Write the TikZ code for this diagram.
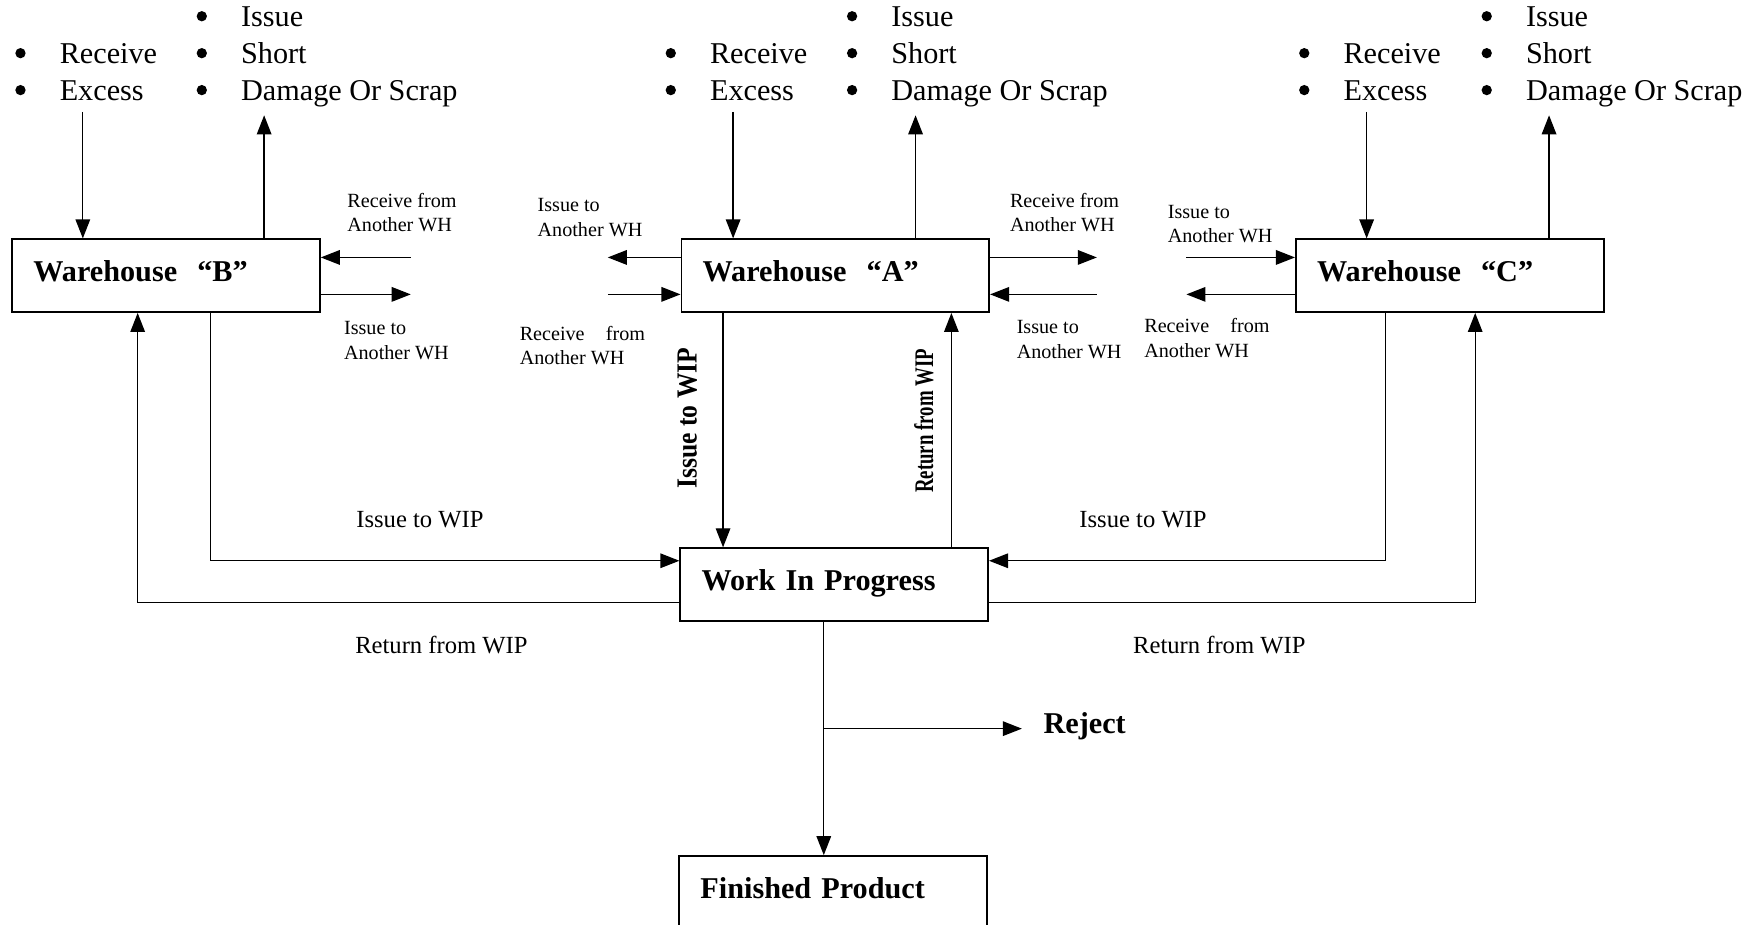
\documentclass[tikz,border=0pt]{standalone}
\usepackage{fontspec}
\setmainfont{Liberation Serif}
\usetikzlibrary{arrows.meta}

% round bullet with its fixed indent before the item text
\newcommand\bdot{\tikz[baseline=0pt]\fill (2.3pt,4.75pt) circle (2.3pt);}
\newcommand\itm{\makebox[19.85pt][l]{\bdot}}
% "Receive from" with its wide gap
\newcommand\spreadrecv{Receive\hspace{9.5pt}from}

\begin{document}
\begin{tikzpicture}[x=0.5pt,y=-0.5pt,
  box/.style={draw, line width=0.8pt, anchor=north west, inner xsep=9.5pt, inner ysep=0pt,
    text width=118.5pt, minimum height=32.5pt, align=left, text height=9pt, text depth=4pt,
    font=\fontsize{13.5}{16}\bfseries\selectfont},
  blist/.style={anchor=base west, inner sep=0pt, align=left, font=\fontsize{13.5}{16.5}\selectfont},
  small/.style={anchor=base west, inner sep=0pt, align=left, font=\fontsize{9}{11}\selectfont},
  flow/.style={anchor=base west, inner sep=0pt, font=\fontsize{11}{13}\selectfont},
  vlab/.style={rotate=90, inner sep=0pt},
  arr/.style={line width=0.6pt, -{Triangle[length=8.5pt,width=6.5pt]}}]
\useasboundingbox (0,0) rectangle (1568,826);
\clip (0,0) rectangle (1568,826);

% boxes
\node[box] (wb)  at (10,213)  {Warehouse\ \ “B”};
\node[box] (wa)  at (608,213) {Warehouse\ \ “A”};
\node[box] (wc)  at (1157,213){Warehouse\ \ “C”};
\node[box] (wip) at (607,489) {Work In Progress};
\node[box] (fin) at (606,764) {Finished Product};

% bullet lists above each warehouse (placed by their last baseline)
\node[blist] (bl1) at (13.3,90)  {\itm Receive\\\itm Excess};
\node[blist] (bl2) at (175.3,90) {\itm Issue\\\itm Short\\\itm Damage Or Scrap};
\node[blist] (al1) at (594.3,90) {\itm Receive\\\itm Excess};
\node[blist] (al2) at (756.3,90) {\itm Issue\\\itm Short\\\itm Damage Or Scrap};
\node[blist] (cl1) at (1160.3,90){\itm Receive\\\itm Excess};
\node[blist] (cl2) at (1323.3,90){\itm Issue\\\itm Short\\\itm Damage Or Scrap};

% free ends of the in/out arrows
\coordinate (bDn) at (74,100);   \coordinate (bUp) at (236,103);
\coordinate (aDn) at (655,100);  \coordinate (aUp) at (818,103);
\coordinate (cDn) at (1221,100); \coordinate (cUp) at (1384,103);

\draw[arr] (bDn) -- (bDn |- wb.north);
\draw[arr] (bUp |- wb.north) -- (bUp);
\draw[arr] (aDn) -- (aDn |- wa.north);
\draw[arr] (aUp |- wa.north) -- (aUp);
\draw[arr] (cDn) -- (cDn |- wc.north);
\draw[arr] (cUp |- wc.north) -- (cUp);

% transfers between warehouses
\coordinate (bR1) at (367,230);  \coordinate (bR2) at (367,263);
\coordinate (aL1) at (543,230);  \coordinate (aL2) at (543,263);
\coordinate (aR1) at (980,230);  \coordinate (aR2) at (980,263);
\coordinate (cL1) at (1060,230); \coordinate (cL2) at (1060,263);

\draw[arr] (bR1) -- (bR1 -| wb.east);
\draw[arr] (bR2 -| wb.east) -- (bR2);
\draw[arr] (aL1 -| wa.west) -- (aL1);
\draw[arr] (aL2) -- (aL2 -| wa.west);
\draw[arr] (aR1 -| wa.east) -- (aR1);
\draw[arr] (aR2) -- (aR2 -| wa.east);
\draw[arr] (cL1) -- (cL1 -| wc.west);
\draw[arr] (cL2 -| wc.west) -- (cL2);

% two-line labels (placed by their second baseline)
\node[small] (s1) at (310,207)  {Receive from\\Another WH};
\node[small] (s2) at (307,321)  {Issue to\\Another WH};
\node[small] (s3) at (480,211)  {Issue to\\Another WH};
\node[small] (s4) at (464,326)  {\spreadrecv\\Another WH};
\node[small] (s5) at (902,207)  {Receive from\\Another WH};
\node[small] (s6) at (908,320)  {Issue to\\Another WH};
\node[small] (s7) at (1043,217) {Issue to\\Another WH};
\node[small] (s8) at (1022,319) {\spreadrecv\\Another WH};

% flows to and from work in progress
\coordinate (bI)  at (188,501);  \coordinate (bRt) at (123,538);
\coordinate (cI)  at (1238,501); \coordinate (cRt) at (1318,538);
\coordinate (aI)  at (646,400);  \coordinate (aR)  at (850,400);

\draw[arr] (wb.south -| bI) -- (bI) -- (bI -| wip.west);
\draw[arr] (wip.west |- bRt) -- (bRt) -- (bRt |- wb.south);
\draw[arr] (wc.south -| cI) -- (cI) -- (cI -| wip.east);
\draw[arr] (wip.east |- cRt) -- (cRt) -- (cRt |- wc.south);
\draw[arr] (wa.south -| aI) -- (wip.north -| aI);
\draw[arr] (wip.north -| aR) -- (wa.south -| aR);

\node[vlab, font=\fontsize{13}{15}\bfseries\selectfont] (vi) at (614,373.5) {\scalebox{0.88}[1]{Issue to WIP}};
\node[vlab, font=\fontsize{12}{14}\bfseries\selectfont] (vr) at (825.5,376) {\scalebox{0.7}[1]{Return from WIP}};

\node[flow] (li1) at (318,471)  {Issue to WIP};
\node[flow] (lr1) at (317,584)  {Return from WIP};
\node[flow] (li2) at (964,471)  {Issue to WIP};
\node[flow] (lr2) at (1012,584) {Return from WIP};

% output of work in progress
\coordinate (brk) at (736,651);
\node[anchor=base west, inner xsep=9.5pt, inner ysep=0pt, font=\fontsize{13.5}{16}\bfseries\selectfont] (rej) at (913,655) {Reject};
\draw[arr] (wip.south -| brk) -- (fin.north -| brk);
\draw[arr] (brk) -- (brk -| rej.west);
\end{tikzpicture}
\end{document}
